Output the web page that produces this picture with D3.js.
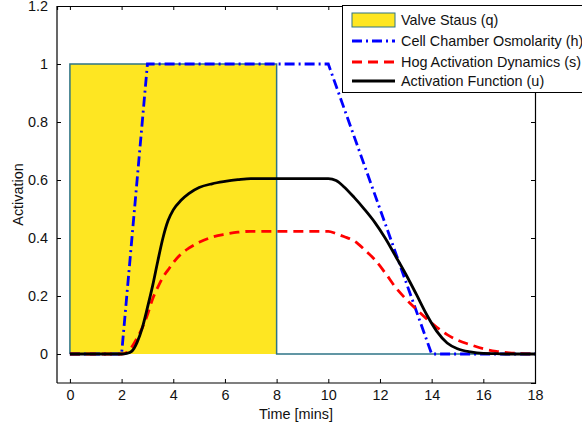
<!DOCTYPE html>
<html><head><meta charset="utf-8">
<script src="https://cdn.jsdelivr.net/npm/d3@7"></script>
<style>body{margin:0;background:#fff}svg{display:block;font-family:"Liberation Sans",Arial,sans-serif}</style>
</head><body>
<svg id="c" width="582" height="426"></svg>
<script>
const xTicks = [0,2,4,6,8,10,12,14,16,18];
const yTicks = [0,0.2,0.4,0.6,0.8,1,1.2];
const yTickLabels = ["0","0.2","0.4","0.6","0.8","1","1.2"];

const qTime = [0,0,8,8,18];
const qVal  = [0,1,1,0,0];

const hTime = [0,2,3,10,14,18];
const hVal  = [0,0,1,1,0,0];

const sTime = [0,2,2.2,2.4,2.6,2.8,3.0,3.2,3.4,3.6,3.8,4.0,4.3,4.6,5.0,5.5,6.0,6.5,7.0,10,10.3,10.6,11.0,11.4,11.8,12.2,12.6,13.0,13.4,13.8,14.2,14.6,15.0,15.5,16,16.5,17,18];
const sVal  = [0,0,0.005,0.025,0.055,0.09,0.135,0.19,0.23,0.265,0.29,0.315,0.345,0.365,0.385,0.403,0.413,0.42,0.423,0.423,0.415,0.405,0.39,0.36,0.325,0.28,0.23,0.19,0.155,0.122,0.092,0.067,0.048,0.032,0.018,0.009,0.004,0];

const uTime = [0,2,2.2,2.4,2.6,2.8,3.0,3.2,3.4,3.6,3.8,4.0,4.3,4.6,5.0,5.5,6.0,6.5,7.0,10,10.3,10.6,11.0,11.4,11.8,12.2,12.6,13.0,13.4,13.8,14.2,14.6,15.0,15.5,16,16.5,17,18];
const uVal  = [0,0,0.002,0.01,0.04,0.09,0.16,0.235,0.32,0.40,0.46,0.497,0.53,0.553,0.574,0.587,0.595,0.601,0.605,0.605,0.598,0.577,0.54,0.499,0.454,0.40,0.338,0.275,0.207,0.137,0.078,0.038,0.018,0.007,0.002,0.001,0,0];

const legendLabels = ["Valve Staus (q)","Cell Chamber Osmolarity (h)","Hog Activation Dynamics (s)","Activation Function (u)"];

const FS = 14.4;
const svg = d3.select("#c");
const L = 57, R = 535, T = 6, B = 383;
const x = d3.scaleLinear().domain([-0.5,18]).range([L,R]);
const y = d3.scaleLinear().domain([-0.1,1.2]).range([B,T]);

const zip = (a,b) => a.map((v,i)=>[v,b[i]]);
const line = d3.line().x(d=>x(d[0])).y(d=>y(d[1]));
const smooth = d3.line().x(d=>x(d[0])).y(d=>y(d[1])).curve(d3.curveMonotoneX);

// valve area
svg.append("path").datum(zip(qTime,qVal))
  .attr("d", d3.area().x(d=>x(d[0])).y0(y(0)).y1(d=>y(d[1])))
  .attr("fill","#FEE622").attr("stroke","none");
svg.append("path").datum(zip(qTime,qVal)).attr("d",line)
  .attr("fill","none").attr("stroke","#2E7486").attr("stroke-width",1.5);

svg.append("path").datum(zip(hTime,hVal)).attr("d",line)
  .attr("fill","none").attr("stroke","#0000FF").attr("stroke-width",2.8)
  .attr("stroke-dasharray","10,4,2,4");
svg.append("path").datum(zip(sTime,sVal)).attr("d",smooth)
  .attr("fill","none").attr("stroke","#FF0000").attr("stroke-width",2.8)
  .attr("stroke-dasharray","10,6");
svg.append("path").datum(zip(uTime,uVal)).attr("d",smooth)
  .attr("fill","none").attr("stroke","#000").attr("stroke-width",2.8);

// axes
const ax = d3.axisBottom(x).tickValues(xTicks).tickSize(-4).tickPadding(7).tickFormat(d3.format("d"));
const gx = svg.append("g").attr("transform",`translate(0,${B})`).call(ax);
const ay = d3.axisLeft(y).tickValues(yTicks).tickSize(-4).tickPadding(9).tickFormat((d,i)=>yTickLabels[i]);
const gy = svg.append("g").attr("transform",`translate(${L},0)`).call(ay);
const axT = d3.axisTop(x).tickValues(xTicks).tickSize(-4).tickFormat("");
svg.append("g").attr("transform",`translate(0,${T})`).call(axT);
const ayR = d3.axisRight(y).tickValues(yTicks).tickSize(-4).tickFormat("");
svg.append("g").attr("transform",`translate(${R},0)`).call(ayR);
svg.selectAll(".domain").attr("stroke","#000").attr("stroke-width",1.2);
svg.selectAll(".tick line").attr("stroke","#000");
svg.selectAll(".tick text").attr("font-size",FS).attr("fill","#111").attr("font-family","Liberation Sans, Arial, sans-serif");
gx.selectAll(".domain").attr("d",`M${L},0H${R}`);
gy.selectAll(".domain").attr("d",`M0,${T}V${B}`);

svg.append("text").attr("x",(L+R)/2).attr("y",419).attr("text-anchor","middle")
  .attr("font-size",FS).attr("fill","#111").text("Time [mins]");
svg.append("text").attr("transform",`translate(23,${(T+B)/2}) rotate(-90)`)
  .attr("text-anchor","middle").attr("font-size",FS).attr("fill","#111").text("Activation");

// legend
const lg = svg.append("g");
lg.append("rect").attr("x",342.5).attr("y",5.5).attr("width",260).attr("height",87)
  .attr("fill","#fff").attr("stroke","#000").attr("stroke-width",1);
const rowY = [20,41,62,81];
lg.append("rect").attr("x",352).attr("y",rowY[0]-7).attr("width",43).attr("height",14)
  .attr("fill","#FEE622").attr("stroke","#2E7486").attr("stroke-width",1);
const styles = [null,{c:"#0000FF",d:"10,4,2,4"},{c:"#FF0000",d:"10,6"},{c:"#000",d:null}];
[1,2,3].forEach(i=>{
  const p = lg.append("line").attr("x1",352).attr("x2",395).attr("y1",rowY[i]).attr("y2",rowY[i])
    .attr("stroke",styles[i].c).attr("stroke-width",2.8);
  if(styles[i].d) p.attr("stroke-dasharray",styles[i].d);
});
legendLabels.forEach((t,i)=>{
  lg.append("text").attr("x",401).attr("y",rowY[i]+5).attr("font-size",FS).attr("fill","#111").text(t);
});
</script>
</body></html>
